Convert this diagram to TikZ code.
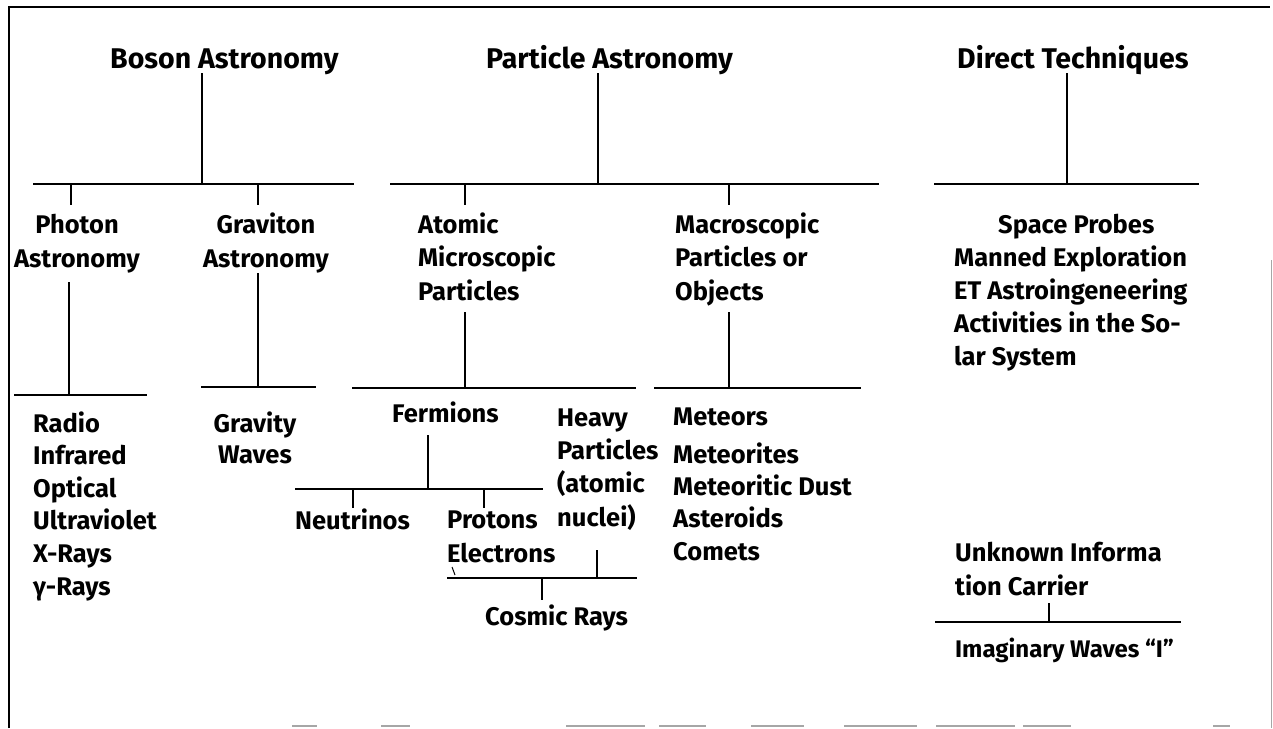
\documentclass[tikz,border=0pt]{standalone}
\usepackage{fontspec}
\setmainfont{Fira Sans}
\begin{document}
\begin{tikzpicture}[x=1pt,y=-1pt,
  ttl/.style={font=\fontsize{28.5}{32}\selectfont\bfseries, inner sep=0, anchor=base west},
  lbl/.style={font=\fontsize{25.5}{33.3}\selectfont\bfseries, inner sep=0, anchor=base west, align=left},
  clbl/.style={lbl, anchor=base, align=center},
  small/.style={font=\fontsize{24}{26}\selectfont\bfseries, inner sep=0, anchor=base west},
  bar/.style={line width=1.7pt},
  frame/.style={line width=1.4pt},
  scanline/.style={line width=1.2pt, gray!70}
]
\useasboundingbox (0,0) rectangle (1273,728);
% frame
\coordinate (fTL) at (9,7); \coordinate (fBL) at (9,728); \coordinate (fTR) at (1270,7);
\coordinate (fR1) at (1271,260); \coordinate (fR2) at (1271,728);
\draw[frame] (fBL) -- (fTL) -- (fTR);
\draw[scanline, line width=0.6pt] (fR1) -- (fR2);
\foreach \a/\b in {292/317,381/410,566/645,659/706,751/804,844/917,936/1015,1023/1071,1213/1230}{
  \draw[scanline] (\a,726) -- (\b,726);
}

% titles
\node[ttl] (boson) at (110,68) {Boson Astronomy};
\node[ttl] (particle) at (486,68) {Particle Astronomy};
\node[ttl] (direct) at (957,68) {Direct Techniques};

% top-level bars
\coordinate (bT) at (202,73); \coordinate (bB) at (202,184);
\coordinate (bL) at (33,184); \coordinate (bR) at (354,184);
\draw[bar] (bT) -- (bB); \draw[bar] (bL) -- (bR);
\coordinate (pT) at (598,73); \coordinate (pB) at (598,184);
\coordinate (pL) at (390,184); \coordinate (pR) at (879,184);
\draw[bar] (pT) -- (pB); \draw[bar] (pL) -- (pR);
\coordinate (dT) at (1067,73); \coordinate (dB) at (1067,184);
\coordinate (dL) at (934,184); \coordinate (dR) at (1199,184);
\draw[bar] (dT) -- (dB); \draw[bar] (dL) -- (dR);

% second level (anchor = baseline of last line)
\node[clbl] (photon) at (77,267) {Photon\\Astronomy};
\node[clbl] (graviton) at (266,267) {Graviton\\Astronomy};
\node[lbl] (atomic) at (418,300) {Atomic\\Microscopic\\Particles};
\node[lbl] (macro) at (675,300) {Macroscopic\\Particles or\\Objects};
\node[lbl, font=\fontsize{25.5}{33}\selectfont\bfseries] (space) at (954,365) {\hspace*{44pt}Space Probes\\Manned Exploration\\ET Astroingeneering\\Activities in the So-\\lar System};

\draw[bar] (71,184) -- (71,205);
\draw[bar] (258,184) -- (258,205);
\draw[bar] (465,184) -- (465,205);
\draw[bar] (729,184) -- (729,205);

% photon branch
\coordinate (phT) at (69,282); \coordinate (phB) at (69,395);
\draw[bar] (phT) -- (phB); \draw[bar] (14,395) -- (147,395);
\node[lbl, font=\fontsize{25.5}{32.6}\selectfont\bfseries] (bands) at (33,595) {Radio\\Infrared\\Optical\\Ultraviolet\\X-Rays\\γ-Rays};

% graviton branch
\draw[bar] (258,273) -- (258,387); \draw[bar] (201,387) -- (316,387);
\node[clbl, font=\fontsize{25.5}{31}\selectfont\bfseries] (gwaves) at (255,463) {Gravity\\Waves};

% atomic branch
\draw[bar] (465,312) -- (465,388); \draw[bar] (352,388) -- (636,388);
\node[lbl] (fermions) at (392,422) {Fermions};
\node[lbl] (heavy) at (557,526) {Heavy\\Particles\\(atomic\\nuclei)};
\draw[bar] (428,435) -- (428,489); \draw[bar] (295,489) -- (543,489);
\draw[bar] (353,489) -- (353,508); \draw[bar] (484,489) -- (484,508);
\node[lbl] (neutrinos) at (295,529) {Neutrinos};
\node[lbl] (protons) at (447,562) {Protons\\Electrons};
\draw[line width=1pt] (452,567) -- (455,575);
\draw[bar] (597,550) -- (597,578); \draw[bar] (447,578) -- (637,578);
\draw[bar] (542,578) -- (542,600);
\node[lbl] (cosmic) at (485,625) {Cosmic Rays};

% macroscopic branch
\draw[bar] (729,312) -- (729,388); \draw[bar] (654,388) -- (861,388);
\node[lbl] (meteors) at (673,425) {Meteors};
\node[lbl, font=\fontsize{25.5}{32.3}\selectfont\bfseries] (meteorites) at (673,560) {Meteorites\\Meteoritic Dust\\Asteroids\\Comets};

% unknown carrier
\node[lbl, font=\fontsize{25.5}{34}\selectfont\bfseries] (unknown) at (955,595) {Unknown Informa\\tion Carrier};
\draw[bar] (1049,603) -- (1049,622); \draw[bar] (935,622) -- (1181,622);
\node[small] (imag) at (955,657) {Imaginary Waves “I”};
\end{tikzpicture}
\end{document}
